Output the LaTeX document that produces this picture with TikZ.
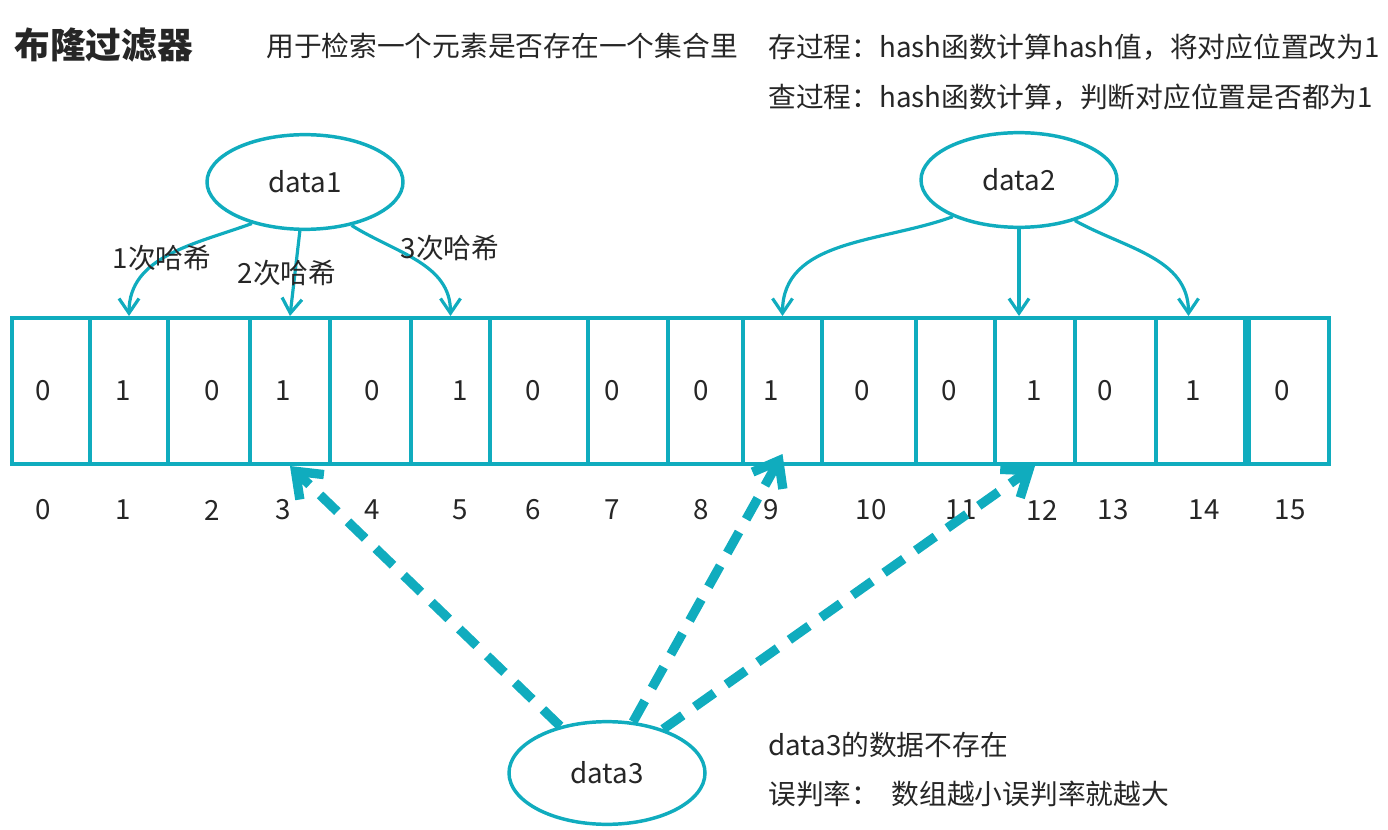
\documentclass[tikz,border=0pt]{standalone}
\usepackage{fontspec}
\setmainfont{Noto Sans CJK SC}
\usepackage{xcolor}
\usepackage{tikz}
\usetikzlibrary{positioning,shapes.geometric,arrows.meta}
\definecolor{tealline}{RGB}{16,172,190}
\definecolor{inkgray}{RGB}{38,38,38}

\begin{document}
\begin{tikzpicture}[
    x=0.75pt, y=-0.75pt,
    font=\fontsize{20.8}{25}\selectfont,
    text=inkgray,
    cell/.style={
        draw=tealline,
        line width=3pt,
        minimum height=109.5pt,
        inner sep=0pt
    },
    bubble/.style={
        draw=tealline,
        ellipse,
        line width=2.6pt,
        minimum width=147pt,
        minimum height=71pt
    },
    note/.style={
        anchor=west,
        inner sep=0pt
    },
    arr/.style={draw=tealline, line width=2.4pt, -{Straight Barb[length=11pt,width=15pt]}},
    probe/.style={draw=tealline, line width=7pt, dash pattern=on 18pt off 11pt,
        -{Straight Barb[length=17pt,width=26pt]}}
]
\useasboundingbox (0,0) rectangle (1388,830);

% heading and notes
\node[note, font=\fontsize{26.8}{30}\selectfont\bfseries] (title) at (14,45) {布隆过滤器};
\node[note] (purpose) at (266,46) {用于检索一个元素是否存在一个集合里};
\node[note] (store) at (768,47) {存过程：hash函数计算hash值，将对应位置改为1};
\node[note] (query) at (768,97) {查过程：hash函数计算，判断对应位置是否都为1};

% bit array
\foreach \i/\l/\r in {0/12/90, 1/90/168, 2/168/250, 3/250/330, 4/330/411,
    5/411/490, 6/490/588, 7/588/668, 8/668/743, 9/743/822, 10/822/916,
    11/916/995, 12/995/1075, 13/1075/1156, 14/1156/1245, 15/1249/1329}
  \node[cell, minimum width={(\r-\l)*0.75pt}] (c\i) at ({(\l+\r)/2},391) {};

\foreach \i/\x/\v in {0/43/0, 1/123/1, 2/212/0, 3/283/1, 4/372/0, 5/460/1,
    6/533/0, 7/612/0, 8/701/0, 9/771/1, 10/862/0, 11/949/0, 12/1034/1,
    13/1105/0, 14/1193/1, 15/1282/0}
  \node (v\i) at (\x,391) {\v};

\foreach \i/\x in {0/43, 1/123, 2/212, 3/283, 4/372, 5/460, 6/533, 7/612,
    8/701, 9/771, 10/871, 11/961, 12/1042, 13/1113, 14/1204, 15/1290}
  \node (n\i) at (\x,510) {\i};

% data items
\node[bubble] (d1) at (305,182) {data1};
\node[bubble] (d2) at (1019,180) {data2};
\node[bubble, minimum height=77pt] (d3) at (607,773) {data3};

% data1 hashes
\draw[arr] (d1.-142) to[out=200, in=90] (c1.north);
\draw[arr] (d1.-96) -- (c3.north);
\draw[arr] (d1.-43) to[out=-32, in=90] (c5.north);
\node (h1) at (162,258) {1次哈希};
\node (h2) at (287,273) {2次哈希};
\node (h3) at (450,248) {3次哈希};

% data2 hashes
\draw[arr] (d2.-151) to[out=200, in=90] (c9.north);
\draw[arr] (d2.south) -- (d2.south |- c12.north);
\draw[arr] (d2.-36) to[out=-29, in=90] ([xshift=-9pt]c14.north);

% data3 lookup
\draw[probe] (d3.135) -- (c3.south);
\draw[probe] (d3.63) -- ([yshift=9pt]c9.south);
\draw[probe] (d3.38) -- (c12.south);
\node[note] (miss) at (768,745) {data3的数据不存在};
\node[note] (rate) at (768,794) {误判率：\ \ 数组越小误判率就越大};

\end{tikzpicture}
\end{document}
